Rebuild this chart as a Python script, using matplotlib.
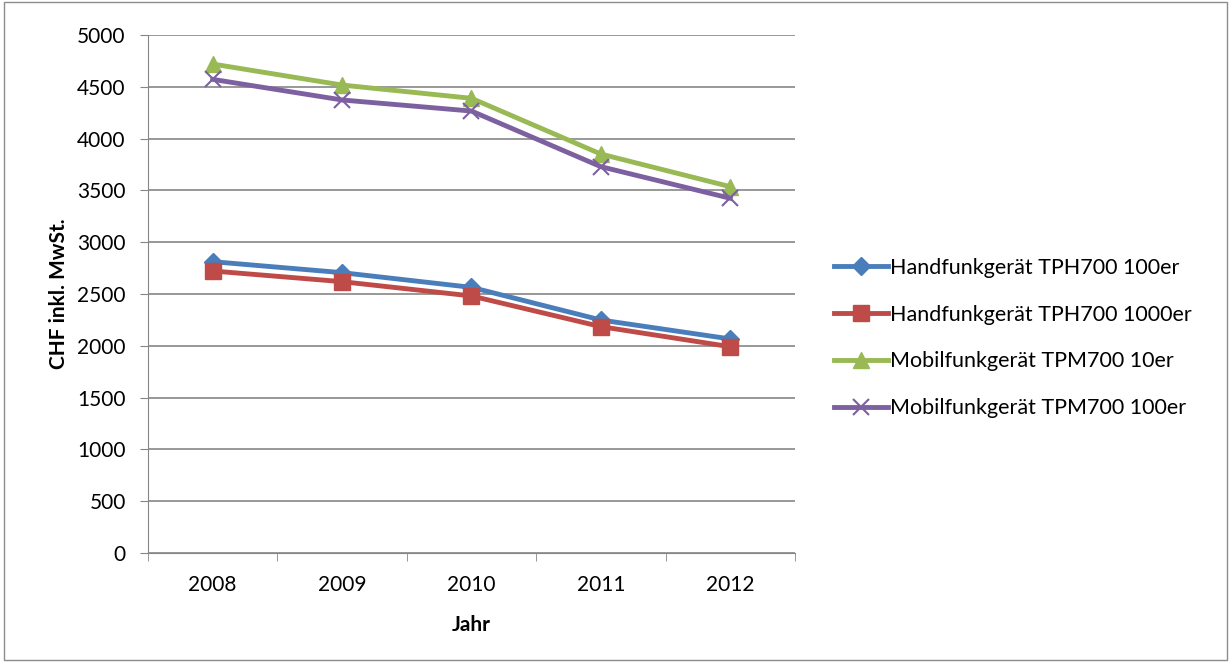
import matplotlib.pyplot as plt
from matplotlib.patches import Rectangle
from matplotlib.ticker import FixedLocator

plt.rcParams['font.family'] = ['Lato', 'DejaVu Sans']

jahre = ["2008", "2009", "2010", "2011", "2012"]
tph_100 = [2812, 2706, 2564, 2249, 2066]
tph_1000 = [2722, 2619, 2481, 2185, 1991]
tpm_10 = [4720, 4517, 4389, 3851, 3536]
tpm_100 = [4572, 4373, 4266, 3729, 3424]

namen = ["Handfunkgerät TPH700 100er", "Handfunkgerät TPH700 1000er",
         "Mobilfunkgerät TPM700 10er", "Mobilfunkgerät TPM700 100er"]

fig = plt.figure(figsize=(12.31, 6.62), dpi=100)
ax = fig.add_axes([0.1202, 0.1647, 0.5256, 0.7824])

x = range(len(jahre))
ax.plot(x, tph_100, color="#4a7ebb", lw=3.5, marker="D", ms=9, label=namen[0])
ax.plot(x, tph_1000, color="#be4b48", lw=3.5, marker="s", ms=11, label=namen[1])
ax.plot(x, tpm_10, color="#98b954", lw=3.5, marker="^", ms=11, label=namen[2])
ax.plot(x, tpm_100, color="#7d60a0", lw=3.5, marker="x", ms=11, mew=1.5, label=namen[3])

ax.set_xlim(-0.5, 4.5)
ax.set_ylim(0, 5000)
ax.set_yticks(range(0, 5001, 500))
ax.set_xticks(list(x))
ax.set_xticklabels(jahre)
ax.xaxis.set_minor_locator(FixedLocator([-0.5, 0.5, 1.5, 2.5, 3.5, 4.5]))
ax.tick_params(axis="x", which="major", length=0, pad=16, labelsize=15)
ax.tick_params(axis="x", which="minor", length=6, color="#868686")
ax.tick_params(axis="y", length=6, color="#868686", labelsize=15, pad=10)
ax.grid(axis="y", color="#868686", lw=1.2)
ax.set_axisbelow(True)
for s in ["top", "right"]:
    ax.spines[s].set_visible(False)
for s in ["left", "bottom"]:
    ax.spines[s].set_color("#868686")

ax.set_ylabel("CHF inkl. MwSt.", fontsize=15, fontweight="bold", labelpad=6)
ax.set_xlabel("Jahr", fontsize=15, fontweight="bold", labelpad=14)

ax.legend(loc="center left", bbox_to_anchor=(1.03, 0.415), frameon=False,
          fontsize=15.5, handlelength=2.5, handletextpad=0.1, labelspacing=1.25)

fig.patches.append(Rectangle((0.003, 0.003), 0.994, 0.994, transform=fig.transFigure,
                             fill=False, edgecolor="#8c8c8c", lw=1))

fig.savefig("out.png", dpi=100)
